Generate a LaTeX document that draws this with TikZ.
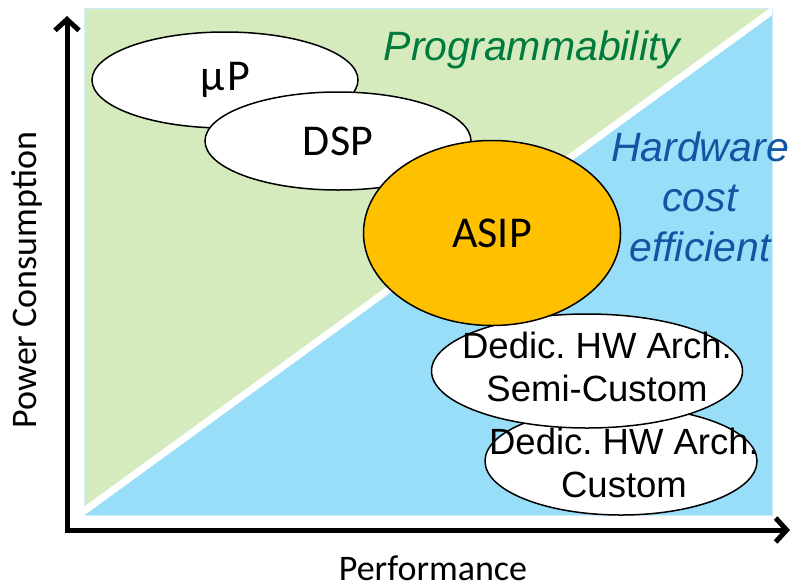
\documentclass[tikz,border=0pt]{standalone}
\usepackage{fontspec}
\setmainfont{Carlito}
\newfontfamily\arialfont{Liberation Sans}
\usetikzlibrary{arrows.meta,positioning,shapes.geometric,calc}
\definecolor{progGreen}{RGB}{213,234,189}
\definecolor{hwBlue}{RGB}{153,222,248}
\definecolor{progText}{RGB}{0,122,61}
\definecolor{hwText}{RGB}{16,86,163}
\definecolor{asipOrange}{RGB}{255,192,0}
\frenchspacing

\begin{document}
\begin{tikzpicture}[x=1pt,y=-1pt,
  blob/.style={ellipse, draw=black, line width=1.5pt, fill=white, inner sep=0pt},
  bigtext/.style={font=\fontsize{44}{48}\selectfont},
  archtext/.style={font=\arialfont\fontsize{36.5}{42.5}\selectfont, align=center, inner sep=0pt},
  slogan/.style={font=\arialfont\itshape\fontsize{41}{50}\selectfont, align=center, inner sep=0pt},
  axislabel/.style={font=\fontsize{36}{40}\selectfont, inner sep=0pt}]
\useasboundingbox (0,0) rectangle (792,587);
% background regions
\fill[progGreen] (84,8) rectangle (772,515);
\fill[hwBlue] (772,8) -- (772,515) -- (84,515) -- cycle;
\draw[hwBlue!50, line width=1pt] (84,8) rectangle (772,515);
\begin{scope}
  \clip (84,8) rectangle (772,515);
  \draw[white, line width=7pt] (80,514) -- (776,8);
\end{scope}
\node[slogan, text=progText, anchor=base] (prog) at (532,60) {Programmability};
\node[slogan, text=hwText] (hw) at (700,197) {Hardware\\cost\\efficient};
% axes
\coordinate (ytop) at (67,16);
\coordinate (origin) at (67,530);
\coordinate (xend) at (790,530);
\draw[line width=5pt, {Straight Barb[length=11pt,width=24pt]}-{Straight Barb[length=11pt,width=24pt]}] (ytop) -- (origin) -- (xend);
\node[axislabel, rotate=90] (power) at (27,280) {Power Consumption};
\node[axislabel, anchor=base] (perf) at (433,580) {Performance};
% architectures
\node[blob, minimum width=266pt, minimum height=96pt, bigtext] (mup) at (225,80) {µ\kern3pt P};
\node[blob, minimum width=266pt, minimum height=98pt, bigtext] (dsp) at (338,141) {DSP};
\node[blob, minimum width=272pt, minimum height=108pt] (custom) at (621,461) {};
\node[archtext] (customtxt) at (624,463) {Dedic. HW Arch.\\Custom};
\node[blob, minimum width=311pt, minimum height=114pt] (semi) at (587,371) {};
\node[archtext] (semitxt) at (597,367) {Dedic. HW Arch.\\Semi-Custom};
\node[blob, fill=asipOrange, minimum width=257pt, minimum height=185pt, bigtext] (asip) at (492,233) {ASIP};
\end{tikzpicture}
\end{document}
